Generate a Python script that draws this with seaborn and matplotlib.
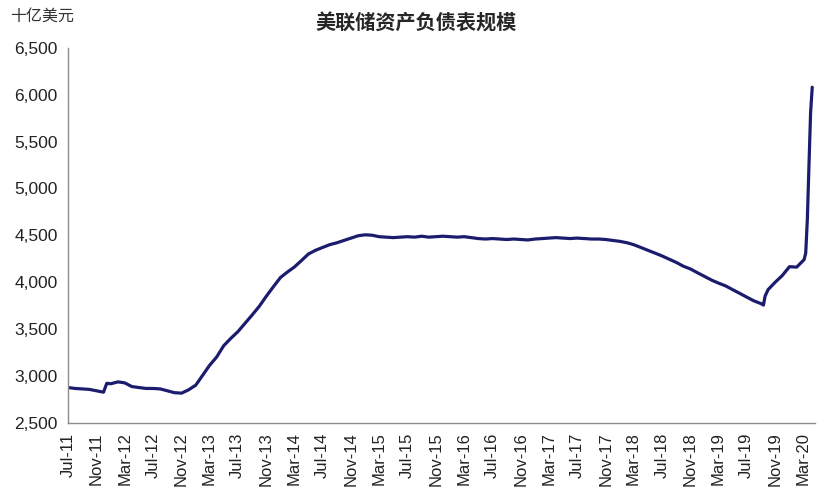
import pandas as pd
import matplotlib.pyplot as plt
import matplotlib.ticker as mticker
import seaborn as sns

# fechas (inicio de mes, mas detalle en los saltos) y total de activos de la Fed, miles de millones USD
dates = ['2011-07-01', '2011-08-01', '2011-09-01', '2011-10-01', '2011-11-01', '2011-12-01', '2011-12-15',
         '2012-01-01', '2012-02-01', '2012-03-01', '2012-04-01', '2012-05-01', '2012-06-01',
         '2012-07-01', '2012-08-01', '2012-09-01', '2012-10-01', '2012-11-01', '2012-12-01',
         '2013-01-01', '2013-02-01', '2013-03-01', '2013-04-01', '2013-05-01', '2013-06-01',
         '2013-07-01', '2013-08-01', '2013-09-01', '2013-10-01', '2013-11-01', '2013-12-01',
         '2014-01-01', '2014-02-01', '2014-03-01', '2014-04-01', '2014-05-01', '2014-06-01',
         '2014-07-01', '2014-08-01', '2014-09-01', '2014-10-01', '2014-11-01', '2014-12-01',
         '2015-01-01', '2015-02-01', '2015-03-01', '2015-04-01', '2015-05-01', '2015-06-01',
         '2015-07-01', '2015-08-01', '2015-09-01', '2015-10-01', '2015-11-01', '2015-12-01',
         '2016-01-01', '2016-02-01', '2016-03-01', '2016-04-01', '2016-05-01', '2016-06-01',
         '2016-07-01', '2016-08-01', '2016-09-01', '2016-10-01', '2016-11-01', '2016-12-01',
         '2017-01-01', '2017-02-01', '2017-03-01', '2017-04-01', '2017-05-01', '2017-06-01',
         '2017-07-01', '2017-08-01', '2017-09-01', '2017-10-01', '2017-11-01', '2017-12-01',
         '2018-01-01', '2018-02-01', '2018-03-01', '2018-04-01', '2018-05-01', '2018-06-01',
         '2018-07-01', '2018-08-01', '2018-09-01', '2018-10-01', '2018-11-01', '2018-12-01',
         '2019-01-01', '2019-02-01', '2019-03-01', '2019-04-01', '2019-05-01', '2019-06-01',
         '2019-07-01', '2019-08-01', '2019-09-01', '2019-09-11', '2019-09-18', '2019-10-01',
         '2019-11-01', '2019-12-01', '2020-01-01', '2020-02-01', '2020-03-04', '2020-03-11',
         '2020-03-18', '2020-03-25', '2020-04-01', '2020-04-08']
assets = [2875, 2865, 2860, 2855, 2840, 2825, 2920,
          2915, 2935, 2925, 2885, 2875, 2865,
          2865, 2860, 2840, 2820, 2815, 2850,
          2900, 3010, 3110, 3200, 3320, 3400,
          3470, 3560, 3650, 3740, 3850, 3950,
          4050, 4110, 4160, 4230, 4300, 4340,
          4370, 4400, 4420, 4445, 4470, 4495,
          4505, 4500, 4485, 4480, 4475, 4480,
          4485, 4480, 4490, 4480, 4485, 4490,
          4485, 4480, 4485, 4475, 4465, 4460,
          4465, 4460, 4455, 4460, 4455, 4450,
          4460, 4465, 4470, 4475, 4470, 4465,
          4470, 4465, 4460, 4460, 4455, 4445,
          4435, 4420, 4400, 4370, 4340, 4310,
          4280, 4245, 4210, 4170, 4140, 4100,
          4060, 4020, 3990, 3960, 3920, 3880,
          3840, 3800, 3770, 3755, 3850, 3920,
          4000, 4070, 4165, 4160, 4240, 4310,
          4670, 5250, 5810, 6080]

yticks = [2500, 3000, 3500, 4000, 4500, 5000, 5500, 6000, 6500]
xticks = pd.date_range('2011-07-01', '2020-03-01', freq='4MS')

df = pd.DataFrame({'fecha': pd.to_datetime(dates), 'activos': assets})

sns.set_style('white')
plt.rcParams['font.family'] = ['Liberation Sans', 'Noto Sans CJK SC', 'DejaVu Sans']

fig = plt.figure(figsize=(8.22, 4.99), dpi=100)
ax = fig.add_axes([0.0827, 0.153, 0.9088, 0.751])

sns.lineplot(data=df, x='fecha', y='activos', ax=ax, color='#1c1c6e', linewidth=2.3)

ax.set_xlim(pd.Timestamp('2011-07-01'), pd.Timestamp('2020-04-20'))
ax.set_ylim(2500, 6500)
ax.set_yticks(yticks)
ax.yaxis.set_major_formatter(mticker.FuncFormatter(lambda v, p: f'{v:,.0f}'))
ax.set_xticks(xticks)
ax.set_xticklabels([d.strftime('%b-%y') for d in xticks], rotation=90)
ax.set_xlabel('')
ax.set_ylabel('')

# ejes en gris, sin marco arriba ni derecha
for s in ['top', 'right']:
    ax.spines[s].set_visible(False)
for s in ['left', 'bottom']:
    ax.spines[s].set_color('#8c8c8c')
    ax.spines[s].set_linewidth(1.0)
ax.tick_params(axis='both', direction='out', length=4, width=1, color='#8c8c8c',
               labelsize=12.5, labelcolor='#222222')
ax.tick_params(axis='x', labelsize=12, pad=3)

fig.text(0.506, 0.953, '美联储资产负债表规模', ha='center', va='center',
         fontsize=14.5, fontweight='bold', family=['Noto Sans CJK SC', 'DejaVu Sans'])
fig.text(0.012, 0.968, '十亿美元', ha='left', va='center', fontsize=11.5,
         color='#333333', family=['Noto Sans CJK SC', 'DejaVu Sans'])

plt.savefig('out.png', dpi=100)
